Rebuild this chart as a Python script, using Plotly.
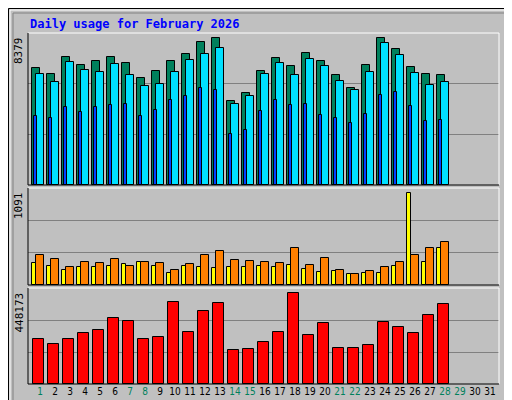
import plotly.graph_objects as go

days = list(range(1, 32))
data_days = list(range(1, 29))
hits = [6673,6332,7298,6843,7071,7298,6957,6104,6502,7071,7469,8152,8379,4796,5251,6502,7242,6787,7526,7071,6275,5535,6843,8379,7753,6730,6332,6275]
files = [6332,5877,7014,6559,6445,6900,6275,5649,5763,6445,7128,7469,7810,4626,5080,6332,6957,6275,7185,6787,5934,5422,6445,8095,7412,6388,5706,5877]
pages = [3943,3829,4455,4171,4455,4569,4626,3943,4284,4853,5080,5535,5422,2919,3147,4227,4853,4569,4626,4000,3829,3545,4057,5137,5308,4512,3659,3716]
visits = [264,228,181,217,217,228,252,276,228,146,228,217,205,217,217,228,217,240,193,158,169,134,146,146,228,1091,276,441]
sites = [351,311,217,276,264,311,228,276,264,181,252,351,406,299,288,276,264,441,240,323,181,134,169,217,276,351,441,512]
kbytes = [222455,197920,222455,251898,266619,325504,310783,222455,232270,404018,256806,359856,399110,168477,173386,207733,256806,448173,242084,300969,178291,178291,193013,305876,281341,251898,340226,394204]
weekend = [1,7,8,14,15,21,22,28,29]
title = "Daily usage for February 2026"
max_labels = ["8379", "1091", "448173"]

W, H = 512, 400
L, R, T, B = 20, 491, 25, 376
def px(x): return (x - L) / (R - L)
def py(y): return (B - y) / (B - T)

fig = go.Figure()
def bar(y, color, off, wid, axis):
    fig.add_trace(go.Bar(x=data_days, y=y, marker=dict(color=color, line=dict(color="black", width=1)),
                         offset=off, width=wid, xaxis="x", yaxis=axis, showlegend=False))
bar(hits, "#00805c", -0.51, 0.49, "y")
bar(files, "#00e0ff", -0.25, 0.49, "y")
bar(pages, "#0040ff", -0.38, 0.16, "y")
bar(visits, "#ffff00", -0.51, 0.27, "y2")
bar(sites, "#ff8000", -0.25, 0.49, "y2")
bar(kbytes, "#ff0000", -0.47, 0.71, "y3")

ticktext = [f"<span style='color:{'#00805c' if d in weekend else 'black'}'>{d}</span>" for d in days]
ranges = [8644, 1147, 471000]
domains = [[py(177), 1], [py(277), py(180)], [0, py(280)]]
fig.update_layout(
    width=W, height=H, margin=dict(l=L, r=W - R, t=T, b=H - B),
    paper_bgcolor="#c0c0c0", plot_bgcolor="#c0c0c0", barmode="overlay", bargap=0,
    font=dict(family="DejaVu Sans Mono", size=11, color="black"),
    xaxis=dict(range=[0.2, 31.6], tickvals=days, ticktext=ticktext, showgrid=False, zeroline=False,
               ticks="", anchor="y3", tickangle=0, tickfont=dict(size=10, family="DejaVu Sans Condensed")),
)
for i, (ax, rng, dom) in enumerate(zip(["yaxis", "yaxis2", "yaxis3"], ranges, domains)):
    fig.layout[ax] = dict(range=[0, rng], domain=dom, tickvals=[rng / 3, 2 * rng / 3], showticklabels=False,
                          gridcolor="#808080", gridwidth=1, zeroline=False, ticks="", fixedrange=True)
    if i > 0:
        fig.layout[ax].anchor = "x"

ann = [
    dict(text=f"<b>{title}</b>", x=px(20), y=py(16), xanchor="left", yanchor="middle",
         font=dict(color="#0000ff", size=12)),
    dict(text=max_labels[0], x=px(19), y=py(27), xanchor="right", yanchor="top", textangle=-90, font=dict(size=11)),
    dict(text=max_labels[1], x=px(19), y=py(182), xanchor="right", yanchor="top", textangle=-90, font=dict(size=11)),
    dict(text=max_labels[2], x=px(19), y=py(282), xanchor="right", yanchor="top", textangle=-90, font=dict(size=11)),
    dict(text="<span style='color:#00e0ff'>Pages</span> / <span style='color:#00b0d0'>Files</span> / <span style='color:#00805c'>Hits</span>",
         x=px(493), y=py(27), xanchor="left", yanchor="top", textangle=-90, font=dict(size=11)),
    dict(text="<span style='color:#ff8000'>Sites</span> / <span style='color:#e0e000'>Visits</span>",
         x=px(493), y=py(182), xanchor="left", yanchor="top", textangle=-90, font=dict(size=11)),
    dict(text="<span style='color:#ff0000'>KBytes</span>", x=px(493), y=py(376), xanchor="left", yanchor="bottom",
         textangle=-90, font=dict(size=11)),
]
for a in ann:
    a.update(xref="paper", yref="paper", showarrow=False)
fig.update_layout(annotations=ann)

shapes = []
for top, bot in [(25, 177), (180, 277), (280, 376)]:
    shapes.append(dict(type="line", x0=px(L), x1=px(R), y0=py(top), y1=py(top), line=dict(color="white", width=1)))
    shapes.append(dict(type="line", x0=px(R), x1=px(R), y0=py(top), y1=py(bot), line=dict(color="white", width=1)))
    shapes.append(dict(type="line", x0=px(L), x1=px(L), y0=py(top), y1=py(bot), line=dict(color="black", width=1)))
    shapes.append(dict(type="line", x0=px(L), x1=px(R), y0=py(bot), y1=py(bot), line=dict(color="black", width=1)))
shapes.append(dict(type="rect", x0=px(0.5), x1=px(511.5), y0=py(0.5), y1=py(399.5), line=dict(color="black", width=1)))
shapes.append(dict(type="rect", x0=px(2), x1=px(509), y0=py(2), y1=py(397), line=dict(color="white", width=1)))
shapes.append(dict(type="rect", x0=px(5), x1=px(506), y0=py(5), y1=py(394), line=dict(color="#808080", width=1)))
for s in shapes:
    s.update(xref="paper", yref="paper", layer="above" if s["line"]["color"] != "#808080" else "below")
fig.update_layout(shapes=shapes)

fig.write_html("out.html", config={"displayModeBar": False})
